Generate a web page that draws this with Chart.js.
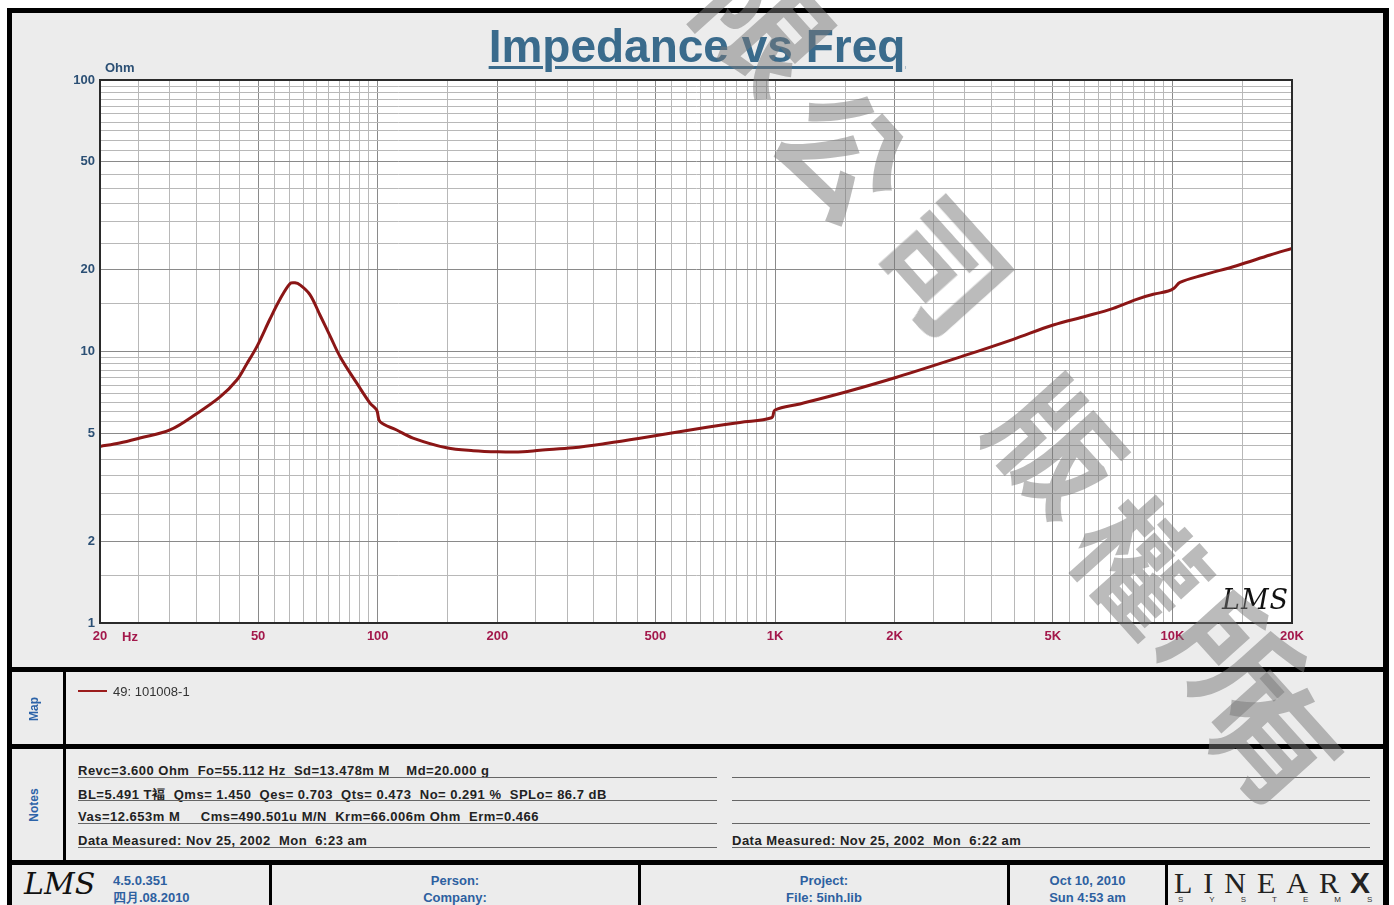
<!DOCTYPE html>
<html>
<head>
<meta charset="utf-8">
<script src="https://cdn.jsdelivr.net/npm/chart.js@4.4.0/dist/chart.umd.min.js"></script>
<style>
body{ margin:0; background:#fff; width:1394px; height:905px; overflow:hidden; position:relative; font-family:"Liberation Sans", Arial, sans-serif; }
.abs{ position:absolute; }
.frame{ left:7px; top:8px; width:1382px; height:910px; border:5px solid #000; border-right-width:6px; box-sizing:border-box; background:#ececec; }
.hr{ left:7px; width:1382px; height:5px; background:#000; }
.vr{ width:3px; background:#000; }
.side{ color:#2c63a8; font-weight:bold; font-size:12px; transform:translate(-50%,-50%) rotate(-90deg); white-space:nowrap; }
.note{ font-size:13px; font-weight:bold; color:#222; white-space:pre; letter-spacing:0.5px; }
.rule{ height:1px; background:#666; }
.foot{ color:#2d60a0; font-weight:bold; font-size:13px; text-align:center; line-height:17px; }
.wm{ font-family:"Noto Sans CJK TC", sans-serif; font-weight:bold; font-size:125px; color:rgba(120,120,120,0.5); transform:translate(-50%,-50%) rotate(48deg); line-height:1; }
</style>
</head>
<body>

<div class="abs frame"></div>
<div class="abs hr" style="top:667px"></div>
<div class="abs hr" style="top:744px"></div>
<div class="abs hr" style="top:860px"></div>
<div class="abs vr" style="left:63px;top:671px;height:190px"></div>
<div class="abs vr" style="left:269px;top:864px;height:45px"></div>
<div class="abs vr" style="left:638px;top:864px;height:45px"></div>
<div class="abs vr" style="left:1007px;top:864px;height:45px"></div>
<div class="abs vr" style="left:1165px;top:864px;height:45px"></div>

<canvas id="grafico" class="abs" width="1394" height="668" style="left:0;top:0"></canvas>

<div class="abs" style="left:0;width:1394px;top:19px;text-align:center;font-size:46px;font-weight:bold;color:#3a6b8c;text-decoration:underline;text-decoration-thickness:3px;text-underline-offset:4px;">Impedance vs Freq</div>
<div class="abs" style="left:105px;top:60px;font-size:13px;font-weight:bold;color:#2b4f74;">Ohm</div>
<div class="abs" style="left:122px;top:629px;font-size:13px;font-weight:bold;color:#a3184b;">Hz</div>
<div class="abs" style="left:1222px;top:584px;font-family:'DejaVu Serif',serif;font-style:italic;font-size:27px;color:#111;letter-spacing:1px;">LMS</div>

<!-- MAP -->
<div class="abs side" style="left:34px;top:709px">Map</div>
<div class="abs" style="left:78px;top:690px;width:29px;height:2px;background:#9b1c1c"></div>
<div class="abs" style="left:113px;top:684px;font-size:13px;color:#333;">49: 101008-1</div>

<!-- NOTES -->
<div class="abs side" style="left:34px;top:805px">Notes</div>
<div class="abs note" style="left:78px;top:763px">Revc=3.600 Ohm  Fo=55.112 Hz  Sd=13.478m M    Md=20.000 g</div>
<div class="abs note" style="left:78px;top:786px">BL=5.491 T褔  Qms= 1.450  Qes= 0.703  Qts= 0.473  No= 0.291 %  SPLo= 86.7 dB</div>
<div class="abs note" style="left:78px;top:809px">Vas=12.653m M     Cms=490.501u M/N  Krm=66.006m Ohm  Erm=0.466</div>
<div class="abs note" style="left:78px;top:833px">Data Measured: Nov 25, 2002  Mon  6:23 am</div>
<div class="abs note" style="left:732px;top:833px">Data Measured: Nov 25, 2002  Mon  6:22 am</div>
<div class="abs rule" style="left:78px;top:777px;width:639px"></div>
<div class="abs rule" style="left:78px;top:800px;width:639px"></div>
<div class="abs rule" style="left:78px;top:823px;width:639px"></div>
<div class="abs rule" style="left:78px;top:847px;width:639px"></div>
<div class="abs rule" style="left:732px;top:777px;width:638px"></div>
<div class="abs rule" style="left:732px;top:800px;width:638px"></div>
<div class="abs rule" style="left:732px;top:823px;width:638px"></div>
<div class="abs rule" style="left:732px;top:847px;width:638px"></div>

<!-- FOOTER -->
<div class="abs" style="left:24px;top:866px;font-family:'DejaVu Serif',serif;font-style:italic;font-size:30px;color:#111;">LMS</div>
<div class="abs foot" style="left:113px;top:872px;text-align:left">4.5.0.351<br>四月.08.2010</div>
<div class="abs foot" style="left:272px;top:872px;width:366px">Person:<br>Company:</div>
<div class="abs foot" style="left:641px;top:872px;width:366px">Project:<br>File: 5inh.lib</div>
<div class="abs foot" style="left:1010px;top:872px;width:155px">Oct 10, 2010<br>Sun  4:53 am</div>
<div class="abs" style="left:1174px;top:866px;font-family:'Liberation Serif',serif;font-size:30px;color:#222;letter-spacing:11px;">LINEAR<span style="font-family:'Liberation Sans',sans-serif;font-weight:900;letter-spacing:0">X</span></div>
<div class="abs" style="left:1178px;top:895px;font-size:8px;color:#333;letter-spacing:26px;">SYSTEMS</div>

<!-- watermark -->
<div class="abs wm" style="left:770px;top:20px">限</div>
<div class="abs wm" style="left:848px;top:148px">公</div>
<div class="abs wm" style="left:948px;top:262px">司</div>
<div class="abs wm" style="left:1062px;top:442px">版</div>
<div class="abs wm" style="left:1145px;top:560px">權</div>
<div class="abs wm" style="left:1238px;top:655px">所</div>
<div class="abs wm" style="left:1280px;top:735px">有</div>

<script>

// =====================================
// DADOS
// =====================================

const freqHz = [
    20, 22.4, 25.2, 30, 35, 40.1, 44.2, 46.8, 49.6, 53.6,
    56.8, 60.2, 61.9, 63.7, 67.5, 71.6, 75.9, 80.4, 88.5, 95.6,
    99.4, 101.4, 111.6, 122.7, 149, 174, 201, 232, 256, 310,
    378, 457, 554, 674, 816, 980, 1000, 1155, 1514, 2023,
    2977, 3977, 5013, 6086, 7099, 8126, 8954, 9766, 10090, 10450,
    11960, 14510, 17610, 20000
];

const impedanceOhm = [
    4.47, 4.60, 4.80, 5.14, 5.90, 6.80, 7.85, 9.00, 10.4, 13.2,
    15.6, 17.8, 17.9, 17.6, 16.2, 13.6, 11.4, 9.57, 7.66, 6.46,
    6.09, 5.51, 5.14, 4.80, 4.42, 4.31, 4.27, 4.27, 4.33, 4.42,
    4.59, 4.79, 5.02, 5.26, 5.48, 5.70, 6.09, 6.41, 7.11, 8.04,
    9.63, 11.09, 12.52, 13.51, 14.42, 15.57, 16.24, 16.70, 17.09, 17.98,
    19.13, 20.70, 22.67, 23.99
];

const xLabelValues = [20, 50, 100, 200, 500, 1000, 2000, 5000, 10000, 20000];
const xLabelTexts  = ["20", "50", "100", "200", "500", "1K", "2K", "5K", "10K", "20K"];

const yLabelValues = [1, 2, 5, 10, 20, 50, 100];
const yLabelTexts  = ["1", "2", "5", "10", "20", "50", "100"];

const gridMantissas = [1, 1.5, 2, 2.5, 3, 3.5, 4, 4.5, 5, 5.5, 6, 6.5, 7, 7.5, 8, 8.5, 9, 9.5];


// =====================================
// GRADE
// =====================================

function montarGrade(min, max){

    const valores = [];

    for(let d = 1; d <= max; d *= 10){

        gridMantissas.forEach(m=>{

            const v = Math.round(m * d * 1000) / 1000;

            if(v >= min && v <= max) valores.push(v);

        });

    }

    return valores;

}

const xGrid = montarGrade(20, 20000);
const yGrid = montarGrade(1, 100);

function rotulo(v, valores, textos){

    const i = valores.findIndex(x=>Math.abs(x - v) < 1e-6);

    return i >= 0 ? textos[i] : "";

}

function corGrade(v){

    if(v === undefined) return "#c4c4c4";

    const m = v / Math.pow(10, Math.floor(Math.log10(v) + 1e-9));

    const forte =
    [1, 2, 5].some(x=>Math.abs(x - m) < 1e-6);

    return forte ? "#8a8a8a" : "#b8b8b8";

}


// =====================================
// MOLDURA
// =====================================

const moldura = {

    id:"moldura",

    beforeDraw(c){

        const a = c.chartArea;

        c.ctx.save();
        c.ctx.fillStyle = "#ffffff";
        c.ctx.fillRect(a.left, a.top, a.right - a.left, a.bottom - a.top);
        c.ctx.restore();

    },

    afterDraw(c){

        const a = c.chartArea;

        c.ctx.save();
        c.ctx.strokeStyle = "#2a2a2a";
        c.ctx.lineWidth = 2;
        c.ctx.strokeRect(a.left, a.top, a.right - a.left, a.bottom - a.top);
        c.ctx.restore();

    }

};


// =====================================
// GRAFICO
// =====================================

const fonteEixo = {
    family:"'Liberation Sans', Arial, sans-serif",
    size:13,
    weight:"bold"
};

new Chart(document.getElementById("grafico"),{

    type:"line",

    data:{

        datasets:[{

            data:
            freqHz.map((f,i)=>({ x:f, y:impedanceOhm[i] })),

            borderColor:"#8b1616",
            borderWidth:3,
            pointRadius:0,
            tension:0.35,
            fill:false

        }]

    },

    options:{

        responsive:false,
        animation:false,

        layout:{
            padding:{ top:80, right:102, left:0, bottom:0 }
        },

        plugins:{
            legend:{ display:false },
            tooltip:{ enabled:false }
        },

        scales:{

            x:{

                type:"logarithmic",
                min:20,
                max:20000,

                afterBuildTicks:s=>{
                    s.ticks = xGrid.map(v=>({ value:v }));
                },

                afterFit:s=>{
                    s.height = 45;
                },

                ticks:{
                    autoSkip:false,
                    maxRotation:0,
                    minRotation:0,
                    padding:6,
                    color:"#a3184b",
                    font:fonteEixo,
                    callback:v=>rotulo(v, xLabelValues, xLabelTexts)
                },

                grid:{
                    drawTicks:false,
                    lineWidth:1,
                    color:ctx=>corGrade(ctx.tick && ctx.tick.value)
                },

                border:{ color:"#2a2a2a", width:2 }

            },

            y:{

                type:"logarithmic",
                min:1,
                max:100,

                afterBuildTicks:s=>{
                    s.ticks = yGrid.map(v=>({ value:v }));
                },

                afterFit:s=>{
                    s.width = 100;
                },

                ticks:{
                    autoSkip:false,
                    padding:5,
                    color:"#2b4f74",
                    font:fonteEixo,
                    callback:v=>rotulo(v, yLabelValues, yLabelTexts)
                },

                grid:{
                    drawTicks:false,
                    lineWidth:1,
                    color:ctx=>corGrade(ctx.tick && ctx.tick.value)
                },

                border:{ color:"#2a2a2a", width:2 }

            }

        }

    },

    plugins:[moldura]

});

</script>
</body>
</html>
